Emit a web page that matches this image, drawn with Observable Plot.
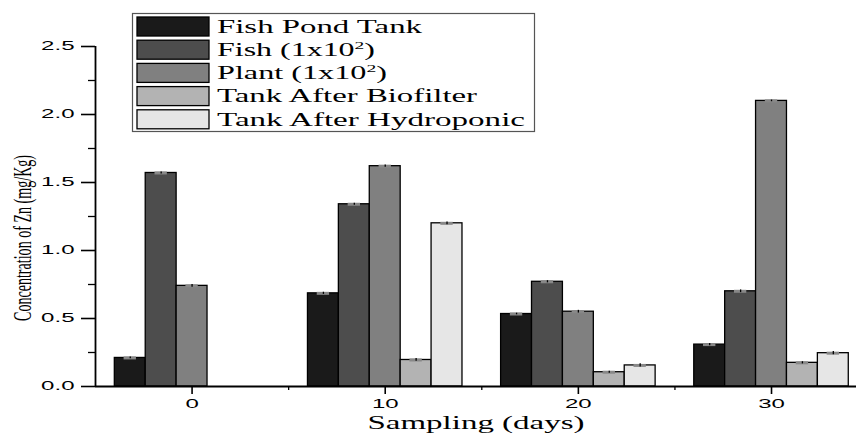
<!DOCTYPE html>
<html>
<head>
<meta charset="utf-8">
<script src="https://cdn.jsdelivr.net/npm/d3@7"></script>
<script src="https://cdn.jsdelivr.net/npm/@observablehq/plot@0.6"></script>
<style>
  html, body { margin: 0; padding: 0; background: #fff; }
  #chart { position: relative; width: 856px; height: 440px; }
</style>
</head>
<body>
<div id="chart"></div>
<script>
// ---- data ----
const days = [0, 10, 20, 30];
const seriesNames = ["Fish Pond Tank", "Fish (1x10²)", "Plant (1x10²)", "Tank After Biofilter", "Tank After Hydroponic"];
const fishPondTank = [0.21, 0.685, 0.533, 0.308];
const fishValues = [1.57, 1.34, 0.77, 0.70];
const plantValues = [0.74, 1.62, 0.55, 2.10];
const tankAfterBiofilter = [null, 0.195, 0.105, 0.174];
const tankAfterHydroponic = [null, 1.20, 0.155, 0.245];
const errFishPond = [0.006, 0.008, 0.006, 0.008];
const errFish = [0.008, 0.008, 0.008, 0.010];
const errPlant = [0.010, 0.008, 0.010, 0.006];
const errBiofilter = [null, 0.010, 0.008, 0.008];
const errHydroponic = [null, 0.010, 0.012, 0.012];
const yTicks = [0, 0.5, 1.0, 1.5, 2.0, 2.5];
const yMinorTicks = [0.25, 0.75, 1.25, 1.75, 2.25];
const xTicks = [0, 10, 20, 30];
const xMinorTicks = [5, 15, 25];
const colors = ["#1a1a1a", "#4d4d4d", "#808080", "#b3b3b3", "#e6e6e6"];

const allValues = [fishPondTank, fishValues, plantValues, tankAfterBiofilter, tankAfterHydroponic];
const allErrors = [errFishPond, errFish, errPlant, errBiofilter, errHydroponic];

// legend text widths (layout, px) to mimic the stretched type of the original
const legendTextWidths = [205, 158, 170, 260, 308];

// ---- table ----
const barW = 1.6; // days per bar
const rows = [];
seriesNames.forEach((s, i) => {
  days.forEach((d, j) => {
    const v = allValues[i][j];
    if (v == null) return;
    const x1 = d + (i - 2.5) * barW;
    rows.push({series: s, day: d, value: v, err: allErrors[i][j], x1, x2: x1 + barW, xc: x1 + barW / 2});
  });
});

const sans = "'Liberation Sans', Arial, sans-serif";
const serif = "'Liberation Serif', 'Times New Roman', serif";

const plot = Plot.plot({
  width: 856,
  height: 440,
  marginLeft: 95,
  marginRight: 0,
  marginTop: 46,
  marginBottom: 54,
  x: {type: "linear", domain: [-5, 34.4]},
  y: {domain: [0, 2.5]},
  color: {domain: seriesNames, range: colors},
  style: {background: "#fff", color: "#000"},
  marks: [
    Plot.rect(rows, {x1: "x1", x2: "x2", y1: 0, y2: "value", fill: "series", stroke: "#000", strokeWidth: 1.3}),
    Plot.ruleY(rows, {x1: d => d.xc - 0.32, x2: d => d.xc + 0.32, y: "value", stroke: "#888", strokeWidth: 3}),
    Plot.ruleX(rows, {x: "xc", y1: d => d.value - d.err, y2: d => d.value + d.err, stroke: "#000", strokeWidth: 1.3}),
    Plot.axisY({ticks: yTicks, tickSize: 14, tickPadding: 7, tickFormat: d3.format(".1f"), fontSize: 12, fontFamily: sans, label: null, strokeWidth: 1.6}),
    Plot.axisY({ticks: yMinorTicks, tickSize: 7, text: null, label: null, strokeWidth: 1.3}),
    Plot.axisX({ticks: xTicks, tickSize: 8, tickPadding: 5, fontSize: 12, fontFamily: sans, label: null, strokeWidth: 1.6}),
    Plot.axisX({ticks: xMinorTicks, tickSize: 4, text: null, label: null, strokeWidth: 1.3}),
    Plot.ruleX([-5], {y1: 0, y2: 2.5, stroke: "#000", strokeWidth: 1.8}),
    Plot.ruleY([0], {stroke: "#000", strokeWidth: 1.8})
  ]
});

document.getElementById("chart").appendChild(plot);

// stretch tick labels horizontally (drop empty minor-tick labels)
d3.select(plot).selectAll("g[aria-label='y-axis tick label'] text, g[aria-label='x-axis tick label'] text").each(function() {
  if (!this.textContent) { this.remove(); return; }
  const len = this.getComputedTextLength();
  if (len > 0) {
    this.setAttribute("textLength", (len * 2).toFixed(1));
    this.setAttribute("lengthAdjust", "spacingAndGlyphs");
  }
});

const svg = d3.select(plot);

// axis titles
svg.append("text")
  .attr("x", 476).attr("y", 429)
  .attr("text-anchor", "middle")
  .attr("font-family", serif).attr("font-size", 18)
  .attr("textLength", 217).attr("lengthAdjust", "spacingAndGlyphs")
  .text("Sampling (days)");

svg.append("text")
  .attr("transform", "translate(31,238) rotate(-90)")
  .attr("text-anchor", "middle")
  .attr("font-family", serif).attr("font-size", 26)
  .attr("textLength", 166).attr("lengthAdjust", "spacingAndGlyphs")
  .text("Concentration of Zn (mg/Kg)");

// legend
const lg = svg.append("g").attr("text-anchor", "start");
lg.append("rect").attr("x", 132.5).attr("y", 13.5).attr("width", 402).attr("height", 118)
  .attr("fill", "#fff").attr("stroke", "#555").attr("stroke-width", 1.2);
seriesNames.forEach((s, i) => {
  const y = 17 + i * 23.2;
  lg.append("rect").attr("x", 137).attr("y", y).attr("width", 72).attr("height", 19)
    .attr("fill", colors[i]).attr("stroke", "#000").attr("stroke-width", 1.3);
  const t = lg.append("text").attr("x", 217).attr("y", y + 15.7)
    .attr("text-anchor", "start")
    .attr("font-family", serif).attr("font-size", 18);
  const m = s.match(/^(.*10)²(\))$/);
  if (m) {
    t.append("tspan").text(m[1]);
    t.append("tspan").attr("dy", -7).attr("font-size", 11).text("2");
    t.append("tspan").attr("dy", 7).text(m[2]);
  } else {
    t.text(s);
  }
  t.attr("textLength", legendTextWidths[i]).attr("lengthAdjust", "spacingAndGlyphs");
});
</script>
</body>
</html>
